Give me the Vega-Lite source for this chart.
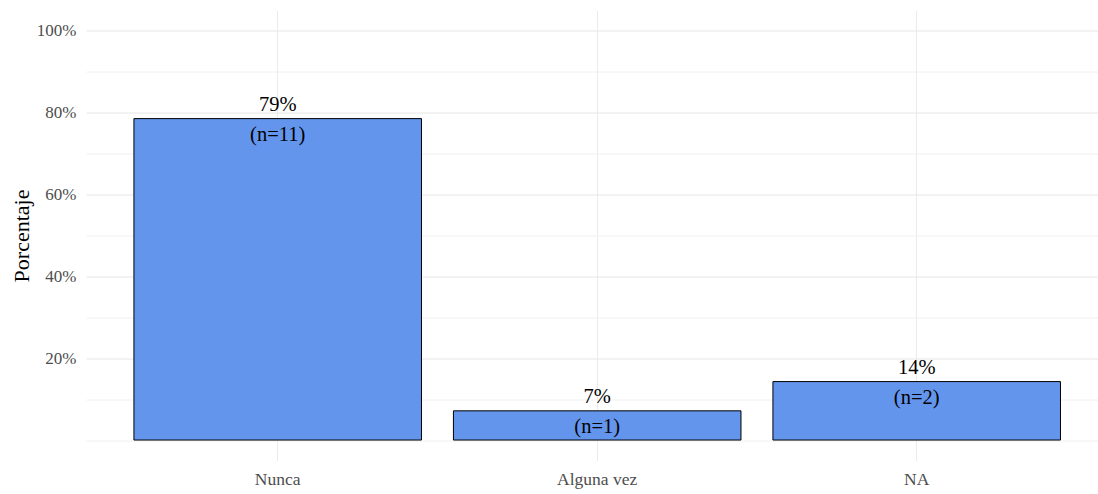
{
  "$schema": "https://vega.github.io/schema/vega-lite/v6.json",
  "autosize": {"type": "none"},
  "width": 1012,
  "height": 450,
  "padding": {"left": 86, "top": 10.5, "right": 0, "bottom": 33.5},
  "background": "white",
  "config": {
    "view": {"stroke": null},
    "font": "Liberation Serif",
    "axis": {"labelFont": "Liberation Serif", "titleFont": "Liberation Serif"}
  },
  "data": {
    "values": [
      {"categoria": "Nunca", "porcentaje": 78.57, "pct_label": "79%", "n_label": "(n=11)"},
      {"categoria": "Alguna vez", "porcentaje": 7.14, "pct_label": "7%", "n_label": "(n=1)"},
      {"categoria": "NA", "porcentaje": 14.29, "pct_label": "14%", "n_label": "(n=2)"}
    ]
  },
  "encoding": {
    "x": {
      "field": "categoria",
      "type": "nominal",
      "sort": null,
      "scale": {"range": [0, 1022.4], "paddingInner": 0.1, "paddingOuter": 0.15},
      "axis": {
        "title": null,
        "labelAngle": 0,
        "labelFontSize": 17.5,
        "labelColor": "#4d4d4d",
        "labelPadding": 10,
        "ticks": false,
        "domain": false,
        "grid": true,
        "gridColor": "#ebebeb",
        "gridWidth": 1,
        "bandPosition": 0.5
      }
    },
    "y": {
      "field": "porcentaje",
      "type": "quantitative",
      "scale": {"domain": [-5, 105], "nice": false, "zero": false},
      "axis": {
        "title": "Porcentaje",
        "titleFontSize": 22,
        "titleFontWeight": "normal",
        "titleColor": "#000000",
        "titleX": -53,
        "values": [0, 10, 20, 30, 40, 50, 60, 70, 80, 90, 100],
        "labelExpr": "(datum.value > 0 && datum.value % 20 === 0) ? datum.value + '%' : ''",
        "labelFontSize": 17,
        "labelColor": "#4d4d4d",
        "labelPadding": 10,
        "ticks": false,
        "domain": false,
        "grid": true,
        "gridColor": {"condition": {"test": "datum.value % 20 === 0 && datum.value > 0", "value": "#e6e6e6"}, "value": "#f0f0f0"},
        "gridWidth": 1
      }
    }
  },
  "layer": [
    {
      "mark": {"type": "bar", "fill": "#6495ED", "stroke": "#000000", "strokeWidth": 1}
    },
    {
      "mark": {"type": "text", "fontSize": 20.5, "color": "#000000", "dy": -14, "baseline": "middle", "font": "Liberation Serif"},
      "encoding": {"text": {"field": "pct_label"}}
    },
    {
      "mark": {"type": "text", "fontSize": 20.5, "color": "#000000", "dy": 16, "baseline": "middle", "font": "Liberation Serif"},
      "encoding": {"text": {"field": "n_label"}}
    }
  ]
}
